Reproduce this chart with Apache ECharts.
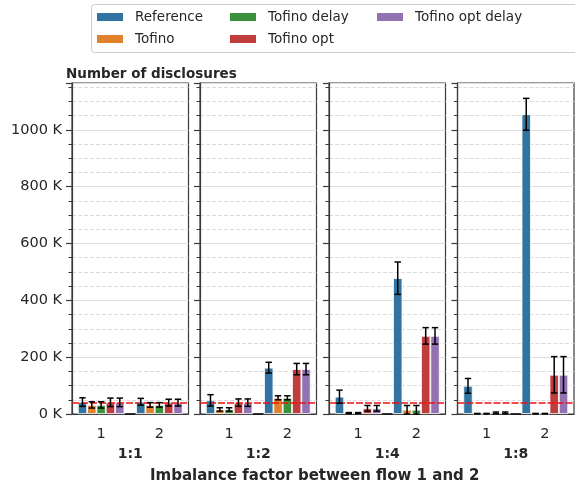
<!DOCTYPE html>
<html>
<head>
<meta charset="utf-8">
<script src="https://cdn.jsdelivr.net/npm/echarts@6/dist/echarts.min.js"></script>
<style>
  html, body { margin: 0; padding: 0; background: #fff; }
  #chart { width: 575px; height: 488px; }
</style>
</head>
<body>
<div id="chart"></div>
<script>
// categories on each panel and the imbalance ratio of each panel
const categories = ["1", "2"];
const ratios = ["1:1", "1:2", "1:4", "1:8"];
const seriesNames = ["Reference", "Tofino", "Tofino delay", "Tofino opt", "Tofino opt delay"];

// values in thousands, ordered panel by panel: [1:1 flow1, 1:1 flow2, 1:2 flow1, ...]
const reference = [42, 43, 48, 163, 61, 478, 99, 1055];
const referenceErr = [15, 12, 20, 19, 23, 57, 26, 56];
const tofino = [32, 32, 16, 57, 3, 15, 1, 1];
const tofinoErr = [11, 8, 6, 7, 2, 15, 1, 1];
const tofinoDelay = [32, 32, 16, 57, 3, 15, 1, 1];
const tofinoDelayErr = [11, 8, 6, 7, 2, 15, 1, 1];
const tofinoOpt = [41, 40, 40, 158, 20, 275, 4, 138];
const tofinoOptErr = [15, 12, 13, 20, 10, 29, 3, 64];
const tofinoOptDelay = [41, 40, 40, 158, 20, 275, 4, 138];
const tofinoOptDelayErr = [15, 12, 13, 20, 10, 29, 3, 64];

// red horizontal line
const threshold = 40;
const yMax = 1165;

const values = [reference, tofino, tofinoDelay, tofinoOpt, tofinoOptDelay];
const errors = [referenceErr, tofinoErr, tofinoDelayErr, tofinoOptErr, tofinoOptDelayErr];
const colors = ["#3274a1", "#e1812c", "#3a923a", "#c03d3e", "#9372b2"];

const textColor = "#262626";
const spine = "#3a3a3a";
const font = "DejaVu Sans";

const chart = echarts.init(document.getElementById("chart"));

const panelLeft = [72, 200, 329, 457.5];
const panelWidth = 116.5;

const grids = [];
const xAxes = [];
const yAxes = [];
const series = [];

ratios.forEach((ratio, p) => {
  grids.push({
    left: panelLeft[p],
    width: panelWidth,
    top: 83,
    height: 331,
    show: true,
    borderColor: spine,
    borderWidth: 1.2,
    backgroundColor: "transparent",
  });

  xAxes.push({
    gridIndex: p,
    type: "category",
    data: categories,
    name: ratio,
    nameLocation: "middle",
    nameGap: 31,
    nameTextStyle: { fontFamily: font, fontWeight: "bold", fontSize: 14, color: textColor },
    axisLine: { lineStyle: { color: spine, width: 1.2 } },
    axisTick: { show: false },
    axisLabel: { fontFamily: font, fontSize: 14.5, color: textColor, margin: 13 },
  });

  yAxes.push({
    gridIndex: p,
    type: "value",
    min: 0,
    max: yMax,
    interval: 200,
    axisLine: { show: true, lineStyle: { color: spine, width: 1.2 } },
    axisTick: { show: true, length: 6, lineStyle: { color: spine, width: 1.2 } },
    minorTick: { show: true, splitNumber: 4, length: 3.5, lineStyle: { color: spine, width: 1 } },
    splitLine: { show: true, lineStyle: { color: "#dddddd", width: 1.2 } },
    minorSplitLine: { show: true, lineStyle: { color: "#dddddd", width: 1, type: [4, 2] } },
    axisLabel: {
      show: p === 0,
      fontFamily: font,
      fontSize: 14.5,
      color: textColor,
      margin: 10,
      formatter: (v) => (v % 200 === 0 ? v + " K" : ""),
    },
  });

  // threshold line behind the bars
  series.push({
    type: "line",
    xAxisIndex: p,
    yAxisIndex: p,
    data: [],
    z: 1,
    silent: true,
    markLine: {
      symbol: "none",
      silent: true,
      label: { show: false },
      lineStyle: { color: "#ee1111", width: 1.5, type: [7, 2] },
      data: [{ yAxis: threshold }],
    },
  });

  seriesNames.forEach((name, k) => {
    series.push({
      name: name,
      type: "bar",
      xAxisIndex: p,
      yAxisIndex: p,
      data: categories.map((c, i) => values[k][p * 2 + i]),
      barGap: "0%",
      barCategoryGap: "20%",
      itemStyle: { color: colors[k], borderColor: "#ffffff", borderWidth: 0.8 },
      z: 2,
    });
  });

  // error bars
  const errData = [];
  seriesNames.forEach((name, k) => {
    categories.forEach((c, i) => {
      errData.push([i, k, values[k][p * 2 + i], errors[k][p * 2 + i]]);
    });
  });
  series.push({
    type: "custom",
    xAxisIndex: p,
    yAxisIndex: p,
    z: 5,
    silent: true,
    data: errData,
    renderItem: (params, api) => {
      const band = api.size([1, 0])[0];
      const w = (band * 0.8) / 5;
      const x = api.coord([api.value(0), 0])[0] + (api.value(1) - 2) * w;
      const v = api.value(2), e = api.value(3);
      const yt = api.coord([api.value(0), v + e])[1];
      const yb = api.coord([api.value(0), Math.max(v - e, 0)])[1];
      const cap = 3.2;
      const style = { stroke: "#000", lineWidth: 1.5 };
      return {
        type: "group",
        children: [
          { type: "line", shape: { x1: x, y1: yt, x2: x, y2: yb }, style: style },
          { type: "line", shape: { x1: x - cap, y1: yt, x2: x + cap, y2: yt }, style: style },
          { type: "line", shape: { x1: x - cap, y1: yb, x2: x + cap, y2: yb }, style: style },
        ],
      };
    },
  });

  // short dark mark on the baseline between the two groups
  series.push({
    type: "custom",
    xAxisIndex: p,
    yAxisIndex: p,
    z: 5,
    silent: true,
    data: [[0, 0]],
    renderItem: (params, api) => {
      const band = api.size([1, 0])[0];
      const pt = api.coord([api.value(0), api.value(1)]);
      const x = pt[0] + band / 2;
      return {
        type: "line",
        shape: { x1: x - 5, y1: pt[1], x2: x + 5, y2: pt[1] },
        style: { stroke: "#111", lineWidth: 1.5 },
      };
    },
  });
});

const legendBase = {
  orient: "vertical",
  itemWidth: 26,
  itemHeight: 8,
  itemGap: 8,
  icon: "rect",
  top: 10,
  padding: 0,
  itemStyle: { borderWidth: 0 },
  textStyle: { fontFamily: font, fontSize: 13.5, color: textColor, lineHeight: 14, padding: [0, 0, 0, 7] },
  selectedMode: false,
};

const option = {
  backgroundColor: "#ffffff",
  animation: false,
  color: colors,
  title: {
    text: "Number of disclosures",
    left: 66,
    top: 67,
    padding: 0,
    textStyle: { fontFamily: font, fontWeight: "bold", fontSize: 13.5, color: textColor },
  },
  legend: [
    Object.assign({}, legendBase, { left: 97, data: ["Reference", "Tofino"] }),
    Object.assign({}, legendBase, { left: 230, data: ["Tofino delay", "Tofino opt"] }),
    Object.assign({}, legendBase, { left: 377, data: ["Tofino opt delay"] }),
  ],
  graphic: [
    {
      type: "rect",
      left: 91,
      top: 4,
      z: -1,
      shape: { width: 500, height: 48, r: 3 },
      style: { fill: "#ffffff", stroke: "#cccccc", lineWidth: 1 },
    },
    {
      type: "text",
      left: 150,
      top: 469,
      style: {
        text: "Imbalance factor between flow 1 and 2",
        font: "bold 15px 'DejaVu Sans'",
        fill: textColor,
      },
    },
  ],
  grid: grids,
  xAxis: xAxes,
  yAxis: yAxes,
  series: series,
};

chart.setOption(option);
</script>
</body>
</html>
